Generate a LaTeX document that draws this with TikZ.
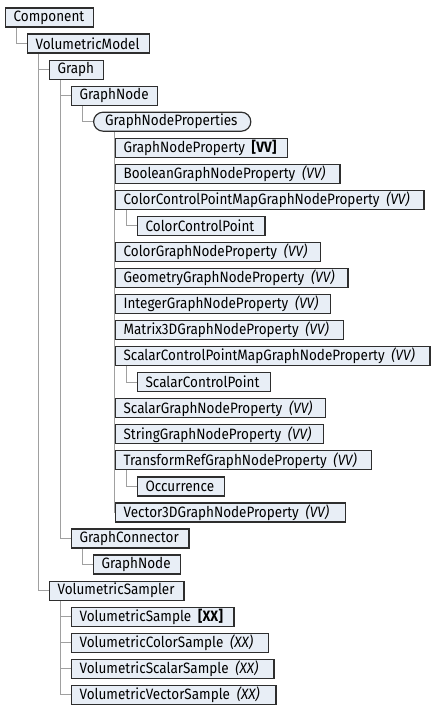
\documentclass[tikz,border=0pt]{standalone}
\usepackage{fontspec}
\setmainfont[FakeStretch=0.9]{Fira Sans}
\usetikzlibrary{backgrounds,shapes.misc}
\definecolor{boxfill}{HTML}{E8EEF6}
\definecolor{boxline}{HTML}{2E2E2E}
\definecolor{connline}{HTML}{A0A0A0}
\tikzset{
  box/.style={draw=boxline, fill=boxfill, line width=1.2pt, inner xsep=8pt, inner ysep=0pt,
    minimum height=19pt, anchor=west, align=left, font=\fontsize{15}{16}\selectfont},
  pill/.style={box, rounded rectangle},
  conn/.style={draw=connline, line width=1.1pt},
}
\newcommand\itemnode[6][box]{% style, name, level, row, right edge, text
  \pgfmathsetmacro\lx{5+22*#3}%
  \pgfmathsetmacro\ry{17.5+(#4-1)*26.05}%
  \pgfmathsetmacro\tw{#5-\lx-16}%
  \node[#1, text width=\tw pt] (#2) at (\lx,\ry) {\mbox{#6}};%
}
\newcommand\vv{\hspace{0.45em}\textit{(VV)}}
\newcommand\xx{\hspace{0.45em}\textit{(XX)}}
\begin{document}
\begin{tikzpicture}[x=1pt,y=-1pt]
\useasboundingbox (0,0) rectangle (436,715);
\itemnode{component}{0}{1}{93}{Component}
\itemnode{volmodel}{1}{2}{149}{VolumetricModel}
\itemnode{graph}{2}{3}{103}{Graph}
\itemnode{graphnode}{3}{4}{157}{GraphNode}
\itemnode[pill]{gnps}{4}{5}{243}{GraphNodeProperties}
\itemnode{gnp}{5}{6}{287}{GraphNodeProperty\hspace{0.45em}\textbf{[VV]}}
\itemnode{boolean}{5}{7}{339.3}{BooleanGraphNodeProperty\vv}
\itemnode{colorcpm}{5}{8}{423.3}{ColorControlPointMapGraphNodeProperty\vv}
\itemnode{colorcp}{6}{9}{264.3}{ColorControlPoint}
\itemnode{colorgnp}{5}{10}{320}{ColorGraphNodeProperty\vv}
\itemnode{geometry}{5}{11}{347.3}{GeometryGraphNodeProperty\vv}
\itemnode{integer}{5}{12}{330}{IntegerGraphNodeProperty\vv}
\itemnode{matrix}{5}{13}{342.7}{Matrix3DGraphNodeProperty\vv}
\itemnode{scalarcpm}{5}{14}{429.3}{ScalarControlPointMapGraphNodeProperty\vv}
\itemnode{scalarcp}{6}{15}{270}{ScalarControlPoint}
\itemnode{scalargnp}{5}{16}{325}{ScalarGraphNodeProperty\vv}
\itemnode{string}{5}{17}{323}{StringGraphNodeProperty\vv}
\itemnode{transform}{5}{18}{371}{TransformRefGraphNodeProperty\vv}
\itemnode{occurrence}{6}{19}{224}{Occurrence}
\itemnode{vector}{5}{20}{345}{Vector3DGraphNodeProperty\vv}
\itemnode{connector}{3}{21}{188.3}{GraphConnector}
\itemnode{graphnodeb}{4}{22}{180}{GraphNode}
\itemnode{sampler}{2}{23}{183.3}{VolumetricSampler}
\itemnode{sample}{3}{24}{233.3}{VolumetricSample\hspace{0.45em}\textbf{[XX]}}
\itemnode{colorsample}{3}{25}{267.7}{VolumetricColorSample\xx}
\itemnode{scalarsample}{3}{26}{273.3}{VolumetricScalarSample\xx}
\itemnode{vectorsample}{3}{27}{275.3}{VolumetricVectorSample\xx}
\begin{scope}[on background layer]
  \newcommand\link[2]{\draw[conn] ([xshift=11.5pt]#1.south west) |- (#2.west);}
  \link{component}{volmodel}
  \link{volmodel}{graph}
  \link{volmodel}{sampler}
  \link{graph}{graphnode}
  \link{graph}{connector}
  \link{graphnode}{gnps}
  \foreach \c in {gnp,boolean,colorcpm,colorgnp,geometry,integer,matrix,scalarcpm,scalargnp,string,transform,vector}
    {\link{gnps}{\c}}
  \link{colorcpm}{colorcp}
  \link{scalarcpm}{scalarcp}
  \link{transform}{occurrence}
  \link{connector}{graphnodeb}
  \foreach \c in {sample,colorsample,scalarsample,vectorsample}
    {\link{sampler}{\c}}
\end{scope}
\end{tikzpicture}
\end{document}
